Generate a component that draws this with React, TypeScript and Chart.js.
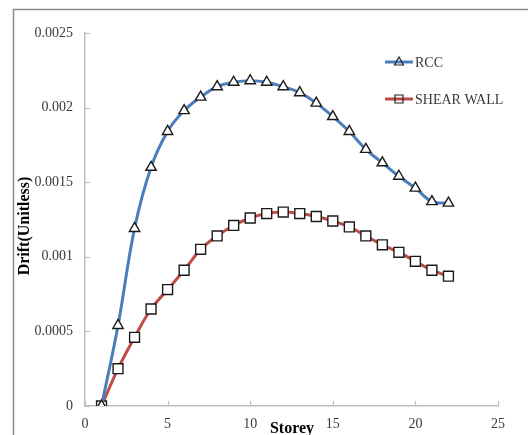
import React, { useEffect, useRef } from "react";
import { Chart, registerables } from "chart.js";

Chart.register(...registerables);

// Storey numbers and inter-storey drift for each structural system
const storeys = [1, 2, 3, 4, 5, 6, 7, 8, 9, 10, 11, 12, 13, 14, 15, 16, 17, 18, 19, 20, 21, 22];
const rccDrift = [
  0, 0.00054, 0.00119, 0.0016, 0.00184, 0.00198, 0.00207, 0.00214, 0.00217, 0.00218, 0.00217,
  0.00214, 0.0021, 0.00203, 0.00194, 0.00184, 0.00172, 0.00163, 0.00154, 0.00146, 0.00137, 0.00136,
];
const shearWallDrift = [
  0, 0.00025, 0.00046, 0.00065, 0.00078, 0.00091, 0.00105, 0.00114, 0.00121, 0.00126, 0.00129,
  0.0013, 0.00129, 0.00127, 0.00124, 0.0012, 0.00114, 0.00108, 0.00103, 0.00097, 0.00091, 0.00087,
];
const yTickLabels = ["0", "0.0005", "0.001", "0.0015", "0.002", "0.0025"];
const xTickLabels = ["0", "5", "10", "15", "20", "25"];
const seriesNames = ["RCC", "SHEAR WALL"];

const BLUE = "#4A7EBB";
const RED = "#BE4B48";
const AXIS = "#BFBFBF";
const TEXT = "#3a3a3a";
const SERIF = "'Liberation Serif', 'Times New Roman', serif";

const toPoints = (ys: number[]) => storeys.map((s, i) => ({ x: s, y: ys[i] }));

// Outer frame, inward tick marks, axis titles and the in-plot legend
const decorations = {
  id: "decorations",
  beforeDraw(chart: any) {
    const ctx = chart.ctx;
    ctx.save();
    ctx.strokeStyle = "#8a8a8a";
    ctx.lineWidth = 1.5;
    ctx.beginPath();
    ctx.moveTo(13.5, 435);
    ctx.lineTo(13.5, 9.5);
    ctx.lineTo(528, 9.5);
    ctx.stroke();
    ctx.restore();
  },
  afterDraw(chart: any) {
    const ctx = chart.ctx;
    const xs = chart.scales.x;
    const ys = chart.scales.y;
    const area = chart.chartArea;
    ctx.save();
    ctx.strokeStyle = AXIS;
    ctx.lineWidth = 1.2;
    ctx.beginPath();
    for (let i = 0; i < yTickLabels.length; i++) {
      const py = Math.round(ys.getPixelForValue(i * 0.0005)) + 0.5;
      ctx.moveTo(area.left, py);
      ctx.lineTo(area.left + 5, py);
    }
    for (let i = 0; i < xTickLabels.length; i++) {
      const px = Math.round(xs.getPixelForValue(i * 5)) + 0.5;
      ctx.moveTo(px, area.bottom);
      ctx.lineTo(px, area.bottom - 5);
    }
    ctx.stroke();

    // axis titles
    ctx.fillStyle = "#000";
    ctx.font = `bold 16px ${SERIF}`;
    ctx.textAlign = "center";
    ctx.textBaseline = "middle";
    ctx.fillText("Storey", 292, 429);
    ctx.save();
    ctx.translate(25, 226);
    ctx.rotate(-Math.PI / 2);
    ctx.fillText("Drift(Unitless)", 0, 0);
    ctx.restore();

    // legend
    const entries = [
      { name: seriesNames[0], color: BLUE, style: "triangle", y: 62 },
      { name: seriesNames[1], color: RED, style: "rect", y: 99 },
    ];
    entries.forEach((e) => {
      ctx.strokeStyle = e.color;
      ctx.lineWidth = 3;
      ctx.beginPath();
      ctx.moveTo(385, e.y);
      ctx.lineTo(413, e.y);
      ctx.stroke();
      ctx.strokeStyle = "#222";
      ctx.lineWidth = 1.2;
      ctx.beginPath();
      if (e.style === "triangle") {
        ctx.moveTo(399, e.y - 5);
        ctx.lineTo(403.5, e.y + 3);
        ctx.lineTo(394.5, e.y + 3);
        ctx.closePath();
      } else {
        ctx.rect(395, e.y - 4, 8, 8);
      }
      ctx.stroke();
      ctx.fillStyle = TEXT;
      ctx.font = `14px ${SERIF}`;
      ctx.textAlign = "left";
      ctx.textBaseline = "middle";
      ctx.fillText(e.name, 415, e.y + 1);
    });
    ctx.restore();
  },
};

export default function App() {
  const canvasRef = useRef<HTMLCanvasElement | null>(null);

  useEffect(() => {
    if (!canvasRef.current) return;
    const chart = new Chart(canvasRef.current, {
      type: "line",
      data: {
        datasets: [
          {
            label: seriesNames[0],
            data: toPoints(rccDrift),
            borderColor: BLUE,
            borderWidth: 3,
            tension: 0.4,
            pointStyle: "triangle",
            pointRadius: 6,
            pointBorderColor: "#1a1a1a",
            pointBackgroundColor: "#ffffff",
            pointBorderWidth: 1.4,
          },
          {
            label: seriesNames[1],
            data: toPoints(shearWallDrift),
            borderColor: RED,
            borderWidth: 3,
            tension: 0.4,
            pointStyle: "rect",
            pointRadius: 7,
            pointBorderColor: "#1a1a1a",
            pointBackgroundColor: "#ffffff",
            pointBorderWidth: 1.4,
          },
        ],
      },
      options: {
        responsive: false,
        animation: false,
        layout: { padding: { left: 0, top: 33, right: 30, bottom: 0 } },
        plugins: { legend: { display: false }, tooltip: { enabled: false } },
        scales: {
          x: {
            type: "linear",
            min: 0,
            max: 25,
            grid: { display: false, drawTicks: false },
            border: { display: true, color: AXIS, width: 1.5 },
            ticks: {
              stepSize: 5,
              padding: 10,
              color: TEXT,
              font: { family: SERIF, size: 14 },
              maxRotation: 0,
              callback: (v: any) => xTickLabels[Math.round(Number(v) / 5)] ?? "",
            },
            afterFit: (s: any) => {
              s.height = 29;
            },
          },
          y: {
            type: "linear",
            min: 0,
            max: 0.0025,
            grid: { display: false, drawTicks: false },
            border: { display: true, color: AXIS, width: 1.5 },
            ticks: {
              stepSize: 0.0005,
              padding: 12,
              color: TEXT,
              font: { family: SERIF, size: 14 },
              callback: (v: any) => yTickLabels[Math.round(Number(v) / 0.0005)] ?? "",
            },
            afterFit: (s: any) => {
              s.width = 85;
            },
          },
        },
      },
      plugins: [decorations],
    });
    return () => chart.destroy();
  }, []);

  return (
    <div style={{ position: "absolute", left: 0, top: 0, width: 528, height: 435, background: "#fff" }}>
      <canvas ref={canvasRef} width={528} height={435} />
    </div>
  );
}
